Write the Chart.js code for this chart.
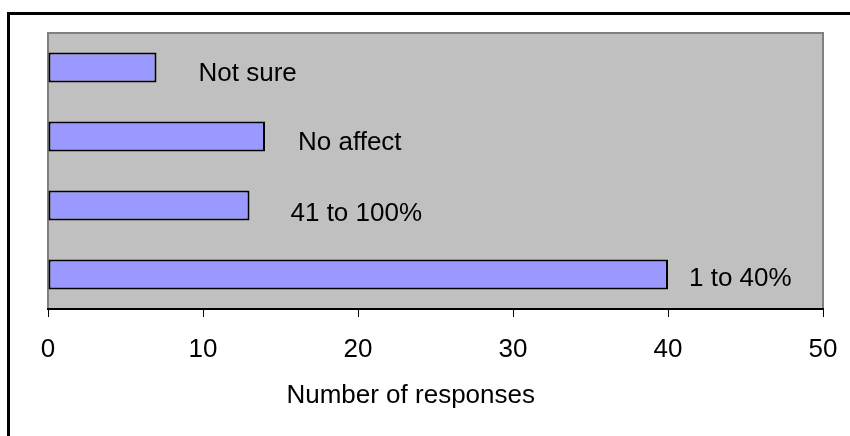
<!DOCTYPE html>
<html>
<head>
<meta charset="utf-8">
<script src="https://cdn.jsdelivr.net/npm/chart.js@4/dist/chart.umd.min.js"></script>
<style>
  html, body { margin: 0; padding: 0; background: #fff; overflow: hidden; }
  #wrap { position: relative; width: 850px; height: 436px; overflow: hidden; }
  #frame {
    position: absolute; left: 7px; top: 12px; width: 900px; height: 500px;
    border-left: 3px solid #000; border-top: 3px solid #000;
  }
  #chart { position: absolute; left: 0; top: 0; }
</style>
</head>
<body>
<div id="wrap">
  <div id="frame"></div>
  <canvas id="chart" width="850" height="436"></canvas>
</div>
<script>
// top-to-bottom order of the bars
const categories = ['Not sure', 'No affect', '41 to 100%', '1 to 40%'];
const responses = [7, 14, 13, 40];
const xTicks = [0, 10, 20, 30, 40, 50];
const xTitle = 'Number of responses';

const FONT = '"Liberation Sans", Arial, sans-serif';

// hand-placed data labels: gap after the bar end and baseline drop from bar centre
const labelGap = [42, 33, 41, 21];
const labelDrop = [13, 13, 15, 11];

const plotBackground = {
  id: 'plotBackground',
  beforeDraw(chart) {
    const { ctx, chartArea: a } = chart;
    ctx.save();
    ctx.fillStyle = '#c0c0c0';
    ctx.fillRect(a.left, a.top, a.right - a.left, a.bottom - a.top);
    ctx.strokeStyle = '#808080';
    ctx.lineWidth = 2;
    ctx.beginPath();
    ctx.moveTo(a.left, a.bottom);
    ctx.lineTo(a.left, a.top);
    ctx.lineTo(a.right, a.top);
    ctx.lineTo(a.right, a.bottom);
    ctx.stroke();
    ctx.restore();
  }
};

const barLabels = {
  id: 'barLabels',
  afterDatasetsDraw(chart) {
    const { ctx } = chart;
    const bars = chart.getDatasetMeta(0).data;
    ctx.save();
    ctx.font = `26px ${FONT}`;
    ctx.fillStyle = '#000';
    ctx.textAlign = 'left';
    ctx.textBaseline = 'alphabetic';
    bars.forEach((bar, i) => {
      ctx.fillText(categories[i], bar.x + labelGap[i], bar.y + labelDrop[i]);
    });

    // axis title sits a little left of the plot centre
    const xs = chart.scales.x;
    ctx.textAlign = 'center';
    ctx.fillText(xTitle, xs.getPixelForValue(23.4), 403);
    ctx.restore();
  }
};

new Chart(document.getElementById('chart'), {
  type: 'bar',
  data: {
    labels: categories,
    datasets: [{
      data: responses,
      backgroundColor: '#9999ff',
      borderColor: '#000',
      borderWidth: 2,
      borderSkipped: false,
      barPercentage: 0.435,
      categoryPercentage: 1
    }]
  },
  options: {
    indexAxis: 'y',
    responsive: false,
    animation: false,
    layout: { padding: { left: 48, right: 27, top: 33, bottom: 0 } },
    plugins: { legend: { display: false }, tooltip: { enabled: false } },
    scales: {
      y: { display: false },
      x: {
        type: 'linear',
        min: 0,
        max: 50,
        afterBuildTicks: (scale) => { scale.ticks = xTicks.map(v => ({ value: v })); },
        afterFit: (scale) => {
          scale.height = 127;
          // the layout padding already leaves room for the end labels
          scale.paddingLeft = 0;
          scale.paddingRight = 0;
        },
        border: { display: true, color: '#000', width: 2 },
        grid: { drawOnChartArea: false, drawTicks: true, tickLength: 8, color: '#000', lineWidth: 1 },
        ticks: { color: '#000', padding: 17, maxRotation: 0, font: { family: FONT, size: 26 } },
        title: { display: false }
      }
    }
  },
  plugins: [plotBackground, barLabels]
});
</script>
</body>
</html>
